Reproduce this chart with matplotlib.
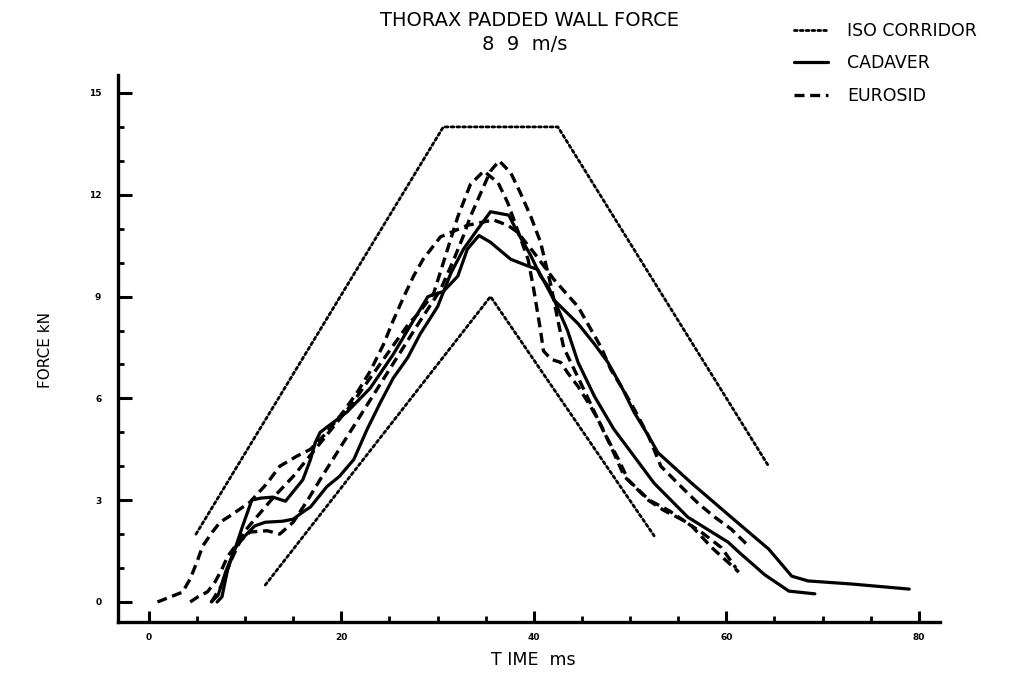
import matplotlib
matplotlib.use("Agg")
import matplotlib.pyplot as plt
from matplotlib.lines import Line2D
from matplotlib.ticker import MultipleLocator

# ---- data (time ms, force kN) ----
iso_upper_t = [4.9, 30.6, 42.5, 64.4]
iso_upper_f = [2.0, 14.0, 14.0, 4.0]
iso_lower_t = [12.1, 35.5, 52.5]
iso_lower_f = [0.5, 9.0, 1.95]

cad_a_t = [6.5, 7.2, 8.0, 9.0, 10.0, 11.0, 12.1, 13.9, 15.0, 16.0, 16.8, 18.5, 19.8, 21.3, 22.7,
           24.1, 25.4, 26.9, 28.2, 30.0, 31.4, 32.7, 34.2, 35.5, 37.4, 38.3, 39.7, 40.7, 41.5,
           43.5, 44.6, 46.3, 48.3, 50.4, 52.5, 56.0, 60.2, 61.3, 64.0, 66.5, 69.2]
cad_a_f = [0.0, 0.2, 0.9, 1.6, 1.95, 2.24, 2.35, 2.38, 2.44, 2.65, 2.8, 3.4, 3.7, 4.2, 5.1,
           5.9, 6.6, 7.2, 7.9, 8.7, 9.7, 10.4, 11.0, 11.5, 11.4, 10.9, 10.2, 9.6, 9.3,
           8.0, 7.06, 6.06, 5.1, 4.3, 3.5, 2.5, 1.76, 1.47, 0.8, 0.32, 0.24]

cad_b_t = [7.1, 7.6, 8.2, 9.0, 9.7, 10.7, 11.6, 12.9, 14.2, 16.0, 16.8, 17.3, 17.8, 19.2, 20.6,
           23.0, 25.4, 27.5, 29.0, 30.6, 32.1, 33.1, 34.3, 35.5, 37.6, 39.4, 40.4, 42.1, 44.6,
           46.3, 47.7, 49.1, 50.4, 51.9, 52.9, 56.4, 60.5, 64.4, 66.8, 68.5, 73.0, 79.0]
cad_b_f = [0.0, 0.15, 0.97, 1.6, 2.2, 3.0, 3.06, 3.09, 2.97, 3.6, 4.2, 4.7, 5.0, 5.3, 5.6,
           6.3, 7.3, 8.3, 9.0, 9.15, 9.6, 10.4, 10.8, 10.6, 10.1, 9.9, 9.8, 8.9, 8.2,
           7.6, 7.06, 6.35, 5.6, 4.9, 4.4, 3.5, 2.5, 1.56, 0.76, 0.62, 0.53, 0.38]

euro_1_t = [6.5, 7.6, 8.5, 9.5, 10.5, 12.3, 13.6, 15.0, 16.5, 18.0, 20.0, 22.0, 24.0, 26.0, 28.0,
            30.3, 31.7, 32.7, 33.4, 34.5, 35.5, 36.4, 37.6, 38.6, 39.7, 40.7, 41.8, 42.5, 43.1,
            44.2, 45.2, 46.3, 47.3, 48.8, 49.8, 52.0, 54.0, 56.4, 58.5, 61.3]
euro_1_f = [0.0, 0.5, 1.2, 1.8, 2.06, 2.1, 2.0, 2.35, 3.0, 3.7, 4.6, 5.5, 6.4, 7.3, 8.2,
            9.2, 10.1, 10.8, 11.35, 12.06, 12.7, 13.0, 12.65, 12.06, 11.35, 10.6, 9.3, 8.3, 7.5,
            6.85, 6.26, 5.6, 5.0, 4.2, 3.6, 3.0, 2.7, 2.24, 1.6, 0.88]

euro_2_t = [4.3, 5.1, 6.1, 6.9, 7.6, 8.2, 9.0, 10.0, 11.5, 13.0, 15.0, 17.0, 19.0, 21.0, 23.0,
            25.0, 27.0, 28.0, 29.6, 30.6, 32.1, 33.4, 34.8, 36.3, 37.3, 38.3, 39.4, 40.0, 40.7,
            41.0, 41.8, 42.8, 43.5, 44.6, 45.9, 47.0, 48.3, 49.4, 51.9, 53.5, 55.3, 57.4, 59.5, 61.0]
euro_2_f = [0.0, 0.15, 0.3, 0.6, 0.97, 1.35, 1.65, 2.1, 2.6, 3.1, 3.7, 4.4, 5.1, 5.8, 6.6,
            7.4, 8.2, 8.5, 9.1, 10.0, 11.35, 12.3, 12.7, 12.35, 11.76, 10.97, 10.1, 9.2, 8.0,
            7.4, 7.15, 7.06, 6.76, 6.35, 5.76, 5.2, 4.4, 3.7, 3.0, 2.7, 2.44, 2.06, 1.6, 1.0]

euro_3_t = [0.9, 3.5, 4.3, 5.0, 5.6, 6.6, 7.4, 8.4, 10.5, 12.3, 13.6, 15.4, 16.8, 18.5, 20.2,
            21.7, 23.0, 24.4, 25.4, 26.5, 27.5, 28.5, 30.3, 33.1, 35.8, 37.3, 38.3, 40.0, 42.1,
            44.6, 45.6, 47.0, 48.0, 49.4, 50.4, 51.9, 53.2, 55.3, 57.1, 58.8, 60.5, 62.3]
euro_3_f = [0.0, 0.29, 0.68, 1.18, 1.65, 2.06, 2.35, 2.53, 2.94, 3.5, 4.0, 4.3, 4.5, 5.0, 5.6,
            6.2, 6.8, 7.6, 8.3, 9.0, 9.6, 10.1, 10.76, 11.1, 11.26, 11.1, 10.9, 10.3, 9.5,
            8.7, 8.2, 7.5, 6.85, 6.2, 5.7, 4.9, 4.0, 3.4, 2.9, 2.5, 2.15, 1.65]

x_ticks = [0, 20, 40, 60, 80]
y_ticks = [0, 3, 6, 9, 12, 15]
legend_labels = ["ISO CORRIDOR", "CADAVER", "EUROSID"]

# ---- figure ----
W, H = 1029, 674
fig = plt.figure(figsize=(W / 100, H / 100), dpi=100)
ax = fig.add_axes([118 / W, 1 - 622 / H, (940 - 118) / W, (622 - 75) / H])

dot = dict(color="black", lw=2.0, linestyle=(0, (1.0, 1.1)), dash_capstyle="round")
sol = dict(color="black", lw=2.3, linestyle="-", solid_capstyle="round", solid_joinstyle="round")
dsh = dict(color="black", lw=2.4, linestyle=(0, (3.0, 1.7)))

ax.plot(iso_upper_t, iso_upper_f, **dot)
ax.plot(iso_lower_t, iso_lower_f, **dot)
for t, f in [(cad_a_t, cad_a_f), (cad_b_t, cad_b_f)]:
    ax.plot(t, f, **sol)
for t, f in [(euro_1_t, euro_1_f), (euro_2_t, euro_2_f), (euro_3_t, euro_3_f)]:
    ax.plot(t, f, **dsh)

ax.set_xlim(-3.2, 82.2)
ax.set_ylim(-0.59, 15.53)
for s in ["top", "right"]:
    ax.spines[s].set_visible(False)
for s in ["left", "bottom"]:
    ax.spines[s].set_linewidth(2.4)

ax.set_xticks(x_ticks)
ax.set_yticks(y_ticks)
ax.set_xticklabels([str(v) for v in x_ticks])
ax.set_yticklabels([str(v) for v in y_ticks])
ax.xaxis.set_minor_locator(MultipleLocator(5))
ax.yaxis.set_minor_locator(MultipleLocator(1))
ax.tick_params(which="major", direction="in", length=8, width=2.2, labelsize=6.5, pad=8)
ax.tick_params(which="minor", direction="in", length=4, width=2.0)
ax.tick_params(axis="y", which="major", length=10, pad=12)
for lab in ax.get_xticklabels() + ax.get_yticklabels():
    lab.set_fontweight("bold")

fig.text(533 / W, 1 - 660 / H, "T IME  ms", ha="center", va="center", fontsize=12.5)
fig.text(45 / W, 1 - 350 / H, "FORCE kN", rotation=90, ha="center", va="center", fontsize=11)

fig.text(529 / W, 1 - 20 / H, "THORAX PADDED WALL FORCE", ha="center", va="center", fontsize=14)
fig.text(525 / W, 1 - 45 / H, "8  9  m/s", ha="center", va="center", fontsize=14)

handles = [Line2D([], [], **dot), Line2D([], [], **sol), Line2D([], [], **dsh)]
fig.legend(handles, legend_labels, loc="upper left", bbox_to_anchor=(778 / W, 1 - 6 / H),
           frameon=False, fontsize=12.5, handlelength=2.0, handletextpad=1.1, labelspacing=0.85)

fig.savefig("out.png", dpi=100)
